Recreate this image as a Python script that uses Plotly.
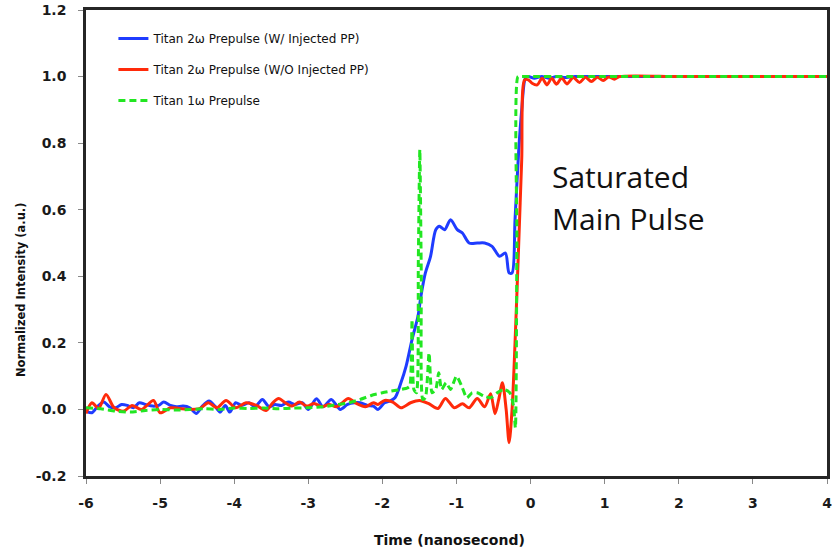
import plotly.graph_objects as go

# ---------------- data ----------------
blue_t = [-6.00, -5.92, -5.84, -5.76, -5.68, -5.60, -5.52, -5.44, -5.36, -5.28, -5.20, -5.10,
          -5.02, -4.95, -4.86, -4.78, -4.69, -4.60, -4.51, -4.43, -4.34, -4.26, -4.19, -4.12,
          -4.06, -3.98, -3.90, -3.80, -3.72, -3.62, -3.53, -3.45, -3.36, -3.27, -3.18, -3.08,
          -3.00, -2.89, -2.80, -2.69, -2.57, -2.47, -2.38, -2.30, -2.20, -2.12, -2.06, -1.97,
          -1.90, -1.83, -1.75, -1.68, -1.60, -1.52, -1.48, -1.42, -1.35, -1.28, -1.23, -1.16,
          -1.08, -0.99, -0.92, -0.83, -0.72, -0.62, -0.52, -0.42, -0.34, -0.29, -0.25, -0.21,
          -0.16, -0.12, -0.07, -0.03, 0.05, 0.15, 0.25, 0.35, 0.45, 0.6, 0.8, 1.0, 1.5, 2.0, 3.0, 4.0]
blue_y = [-0.005, -0.010, 0.010, 0.022, 0.008, 0.005, 0.015, 0.012, 0.005, 0.020, 0.015, 0.010,
          0.012, 0.022, 0.012, 0.008, 0.010, 0.005, -0.012, 0.010, 0.025, 0.010, -0.008, 0.012,
          -0.008, 0.020, 0.012, 0.020, 0.008, 0.030, 0.008, 0.015, 0.012, 0.022, 0.015, 0.020,
          0.000, 0.032, 0.008, 0.030, 0.000, 0.015, 0.020, 0.020, 0.012, 0.010, 0.000, 0.020,
          0.025, 0.035, 0.080, 0.130, 0.210, 0.280, 0.340, 0.410, 0.460, 0.540, 0.550, 0.540,
          0.570, 0.540, 0.530, 0.500, 0.500, 0.500, 0.490, 0.460, 0.470, 0.410, 0.410, 0.570,
          0.780, 0.900, 0.995, 1.000, 0.995, 1.000, 0.995, 1.000, 0.997, 1.000, 1.000, 1.000,
          1.000, 1.000, 1.000, 1.000]

red_t = [-6.00, -5.92, -5.83, -5.73, -5.62, -5.49, -5.38, -5.25, -5.09, -5.00, -4.86, -4.75,
         -4.60, -4.46, -4.35, -4.23, -4.11, -3.98, -3.84, -3.70, -3.57, -3.48, -3.40, -3.31,
         -3.22, -3.12, -3.02, -2.92, -2.82, -2.72, -2.62, -2.54, -2.46, -2.35, -2.23, -2.12,
         -2.06, -1.97, -1.86, -1.75, -1.62, -1.50, -1.38, -1.25, -1.15, -1.03, -0.92, -0.83,
         -0.72, -0.62, -0.54, -0.48, -0.43, -0.38, -0.33, -0.29, -0.25, -0.21, -0.16, -0.12,
         -0.08, -0.03, 0.02, 0.09, 0.155, 0.22, 0.285, 0.35, 0.42, 0.49, 0.575, 0.66, 0.74,
         0.82, 0.90, 0.98, 1.055, 1.13, 1.20, 2.0, 3.0, 4.0]
red_y = [-0.012, 0.020, 0.003, 0.045, 0.005, -0.005, 0.012, 0.000, 0.027, -0.010, 0.005, 0.003,
         0.000, 0.003, 0.020, 0.005, 0.027, 0.005, 0.020, 0.012, -0.003, 0.020, 0.033, 0.020,
         0.010, 0.022, 0.010, 0.018, 0.008, 0.015, 0.008, 0.020, 0.033, 0.018, 0.008, 0.020,
         0.015, 0.027, 0.022, 0.005, 0.020, 0.027, 0.018, 0.003, 0.033, 0.005, 0.017, 0.005,
         0.033, 0.008, 0.047, -0.013, 0.030, 0.080, 0.000, -0.100, 0.000, 0.200, 0.500, 0.750,
         0.990, 0.990, 0.980, 0.975, 0.995, 0.975, 0.995, 0.977, 0.996, 0.978, 0.997, 0.982,
         0.998, 0.985, 0.998, 0.988, 0.999, 0.992, 1.000, 1.000, 1.000, 1.000]

green_t = [-6.00, -5.80, -5.60, -5.40, -5.20, -5.00, -4.80, -4.60, -4.40, -4.20, -4.00, -3.80,
           -3.60, -3.40, -3.20, -3.00, -2.80, -2.60, -2.45, -2.30, -2.15, -2.00, -1.88, -1.75,
           -1.66, -1.63, -1.60, -1.575, -1.54, -1.515, -1.495, -1.475, -1.455, -1.42, -1.37,
           -1.33, -1.28, -1.24, -1.20, -1.14, -1.08, -1.00, -0.93, -0.86, -0.79, -0.72, -0.63,
           -0.54, -0.45, -0.36, -0.28, -0.23, -0.205, -0.185, -0.17, -0.12, 0.0, 0.5, 1.0,
           2.0, 3.0, 4.0]
green_y = [0.005, 0.002, -0.005, -0.008, -0.003, 0.000, -0.002, 0.000, 0.002, 0.000, 0.004, 0.003,
           0.004, 0.002, 0.004, 0.005, 0.008, 0.015, 0.020, 0.030, 0.042, 0.050, 0.055, 0.060,
           0.065, 0.070, 0.270, 0.060, 0.050, 0.450, 0.780, 0.400, 0.030, 0.035, 0.170,
           0.050, 0.060, 0.110, 0.060, 0.080, 0.060, 0.100, 0.070, 0.035, 0.050, 0.050, 0.040,
           0.035, 0.050, 0.060, 0.050, 0.010, -0.055, 0.500, 1.000, 1.000, 1.000, 1.000, 1.000,
           1.000, 1.000, 1.000]

series_names = ["Titan 2ω Prepulse (W/ Injected PP)",
                "Titan 2ω Prepulse (W/O Injected PP)",
                "Titan 1ω Prepulse"]
x_ticks = [-6, -5, -4, -3, -2, -1, 0, 1, 2, 3, 4]
y_ticks = [-0.2, 0.0, 0.2, 0.4, 0.6, 0.8, 1.0, 1.2]
y_tick_text = ["-0.2", "0.0", "0.2", "0.4", "0.6", "0.8", "1.0", "1.2"]

# ---------------- figure ----------------
fig = go.Figure()
fig.add_trace(go.Scatter(x=blue_t, y=blue_y, mode="lines", name=series_names[0],
                         legendgroup="a",
                         line=dict(color="#1f3cff", width=3, shape="spline", smoothing=0.8)))
fig.add_trace(go.Scatter(x=red_t, y=red_y, mode="lines", name=series_names[1],
                         legendgroup="b",
                         line=dict(color="#ff2a0a", width=3, shape="spline", smoothing=0.8)))
fig.add_trace(go.Scatter(x=green_t, y=green_y, mode="lines", name=series_names[2],
                         legendgroup="c",
                         line=dict(color="#22e622", width=3, dash="7px,4px",
                                   shape="spline", smoothing=0.6)))

tick_font = dict(family="DejaVu Sans", size=14, color="#1a1a1a", weight="bold")

fig.update_layout(
    width=834, height=554,
    margin=dict(l=86, r=2, t=8, b=78),
    paper_bgcolor="white", plot_bgcolor="white",
    showlegend=True,
    legend=dict(x=0.037, y=0.970, xanchor="left", yanchor="top",
                bgcolor="rgba(0,0,0,0)", borderwidth=0,
                traceorder="grouped", tracegroupgap=12,
                font=dict(family="DejaVu Sans", size=12, color="#111")),
    xaxis=dict(range=[-6, 4], tickvals=x_ticks, ticktext=[str(v) for v in x_ticks],
               showgrid=False, zeroline=False,
               showline=True, linecolor="#262626", linewidth=2.5, mirror=True,
               ticks="outside", ticklen=5, tickcolor="#888", tickwidth=1,
               ticklabelstandoff=7, ticklabeloverflow="allow", tickfont=tick_font),
    yaxis=dict(range=[-0.2, 1.2], tickvals=y_ticks, ticktext=y_tick_text,
               showgrid=False, zeroline=False,
               showline=True, linecolor="#262626", linewidth=2.5, mirror=True,
               ticks="outside", ticklen=5, tickcolor="#888", tickwidth=1,
               ticklabelstandoff=9, ticklabeloverflow="allow", tickfont=tick_font),
)

# axis titles
fig.add_annotation(text="<b>Time (nanosecond)</b>", xref="paper", yref="paper",
                   x=0.49, y=-0.137, xanchor="center", yanchor="middle", showarrow=False,
                   font=dict(family="DejaVu Sans", size=14, color="#111"))
fig.add_annotation(text="<b>Normalized Intensity (a.u.)</b>", xref="paper", yref="paper",
                   x=-0.0885, y=0.40, xanchor="center", yanchor="middle", showarrow=False,
                   textangle=-90,
                   font=dict(family="DejaVu Sans", size=11.5, color="#111"))

# in-plot label
fig.add_annotation(text="Saturated", xref="x", yref="y", x=0.26, y=0.70,
                   xanchor="left", yanchor="middle", showarrow=False,
                   font=dict(family="Open Sans", size=30, color="#111"))
fig.add_annotation(text="Main Pulse", xref="x", yref="y", x=0.26, y=0.574,
                   xanchor="left", yanchor="middle", showarrow=False,
                   font=dict(family="Open Sans", size=30, color="#111"))

fig.write_html("out.html")
